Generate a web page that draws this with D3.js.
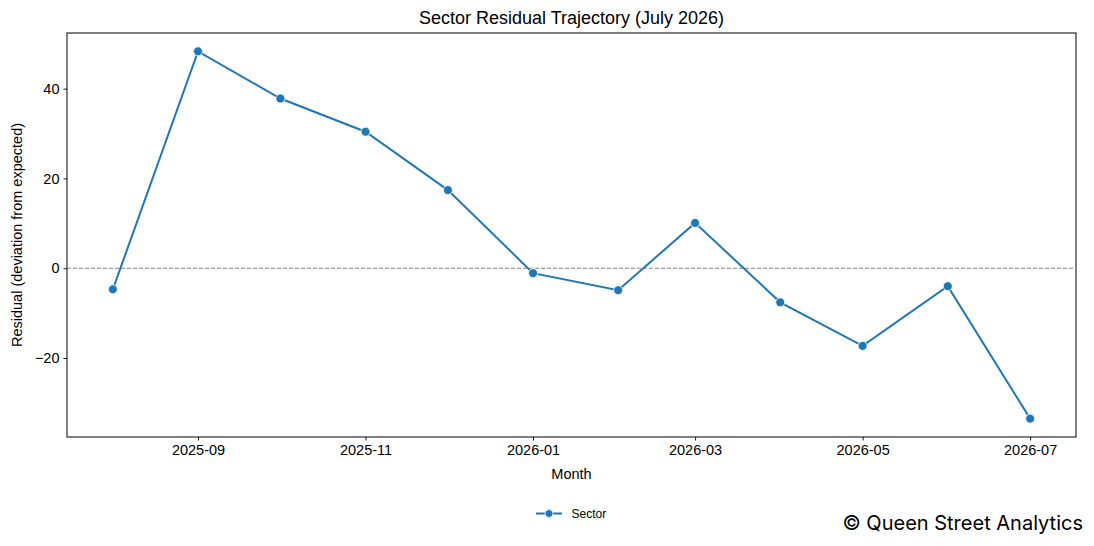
<!DOCTYPE html>
<html>
<head>
<meta charset="utf-8">
<script src="https://cdn.jsdelivr.net/npm/d3@7"></script>
<style>
body{margin:0;background:#fff;}
text{font-family:"Liberation Sans",Arial,sans-serif;fill:#000;}
</style>
</head>
<body>
<div id="chart-area"></div>
<script>
// data
let months=["2025-08","2025-09","2025-10","2025-11","2025-12","2026-01","2026-02","2026-03","2026-04","2026-05","2026-06","2026-07"];
let residuals=[-4.7,48.3,37.8,30.4,17.4,-1.1,-4.9,10.1,-7.6,-17.3,-4.0,-33.5];
let xTicks=["2025-09","2025-11","2026-01","2026-03","2026-05","2026-07"];
let yTicks=[-20,0,20,40];

let W=1094,H=546;
let margin={top:33,right:18,left:67,bottom:109};
let width=W-margin.left-margin.right;
let height=H-margin.top-margin.bottom;

let parse=d3.timeParse("%Y-%m");
let data=months.map((m,i)=>({date:parse(m),value:residuals[i]}));

let svg=d3.select("#chart-area").append("svg")
	.attr("width",W)
	.attr("height",H);

let g=svg.append("g")
	.attr("transform","translate("+margin.left+","+margin.top+")");

//---------SCALES--------------
let xExt=d3.extent(data,d=>d.date);
let xPad=(xExt[1]-xExt[0])*0.05;
let x=d3.scaleTime()
	.domain([new Date(+xExt[0]-xPad),new Date(+xExt[1]+xPad)])
	.range([0,width]);

let yExt=d3.extent(residuals);
let yPad=(yExt[1]-yExt[0])*0.05;
let y=d3.scaleLinear()
	.domain([yExt[0]-yPad,yExt[1]+yPad])
	.range([height,0]);

//-------AXES------------------
let xAxis=d3.axisBottom(x)
	.tickValues(xTicks.map(parse))
	.tickFormat(d3.timeFormat("%Y-%m"))
	.tickSizeInner(3.5)
	.tickSizeOuter(0)
	.tickPadding(4);

let xAxisGroup=g.append("g")
	.attr("transform","translate(0,"+height+")")
	.call(xAxis);

let yAxis=d3.axisLeft(y)
	.tickValues(yTicks)
	.tickFormat(d=>d<0?"\u2212"+Math.abs(d):d)
	.tickSizeInner(3.5)
	.tickSizeOuter(0)
	.tickPadding(4);

let yAxisGroup=g.append("g")
	.call(yAxis);

[xAxisGroup,yAxisGroup].forEach(a=>{
	a.select(".domain").remove();
	a.selectAll("text").attr("font-size","14.5px").attr("font-family","Liberation Sans, Arial, sans-serif").attr("fill","#000");
	a.selectAll("line").attr("stroke","#000").attr("stroke-width",0.9);
});

// frame
g.append("rect")
	.attr("width",width)
	.attr("height",height)
	.attr("fill","none")
	.attr("stroke","#000")
	.attr("stroke-width",1);

// zero line
g.append("line")
	.attr("x1",0).attr("x2",width)
	.attr("y1",y(0)).attr("y2",y(0))
	.attr("stroke","#808080")
	.attr("stroke-width",1)
	.attr("stroke-dasharray","4,2");

//------LINE + MARKERS---------
let line=d3.line()
	.x(d=>x(d.date))
	.y(d=>y(d.value));

g.append("path")
	.datum(data)
	.attr("fill","none")
	.attr("stroke","#1f77b4")
	.attr("stroke-width",2)
	.attr("d",line);

g.selectAll("circle.pt").data(data).enter()
	.append("circle")
		.attr("class","pt")
		.attr("cx",d=>x(d.date))
		.attr("cy",d=>y(d.value))
		.attr("r",4.5)
		.attr("fill","#1f77b4")
		.attr("stroke","#fff")
		.attr("stroke-width",0.8);

//------LABELS----------------
svg.append("text")
	.attr("x",margin.left+width/2)
	.attr("y",24)
	.attr("text-anchor","middle")
	.attr("font-size","18px")
	.text("Sector Residual Trajectory (July 2026)");

svg.append("text")
	.attr("x",margin.left+width/2)
	.attr("y",479)
	.attr("text-anchor","middle")
	.attr("font-size","14.5px")
	.text("Month");

svg.append("text")
	.attr("transform","rotate(-90)")
	.attr("x",-(margin.top+height/2))
	.attr("y",22)
	.attr("text-anchor","middle")
	.attr("font-size","14.5px")
	.text("Residual (deviation from expected)");

//--------LEGEND--------------
let legend=svg.append("g")
	.attr("transform","translate(536,513.5)");

legend.append("line")
	.attr("x1",0).attr("x2",26)
	.attr("stroke","#1f77b4")
	.attr("stroke-width",2);

legend.append("circle")
	.attr("cx",13)
	.attr("r",4)
	.attr("fill","#1f77b4")
	.attr("stroke","#fff")
	.attr("stroke-width",0.8);

legend.append("text")
	.attr("x",35.5)
	.attr("y",4)
	.attr("font-size","12px")
	.text("Sector");

//-------WATERMARK------------
svg.append("text")
	.attr("x",1083)
	.attr("y",530)
	.attr("text-anchor","end")
	.attr("font-size","20px")
	.style("font-family","Inter, sans-serif")
	.attr("fill","#333")
	.text("\u00a9 Queen Street Analytics");
</script>
</body>
</html>
